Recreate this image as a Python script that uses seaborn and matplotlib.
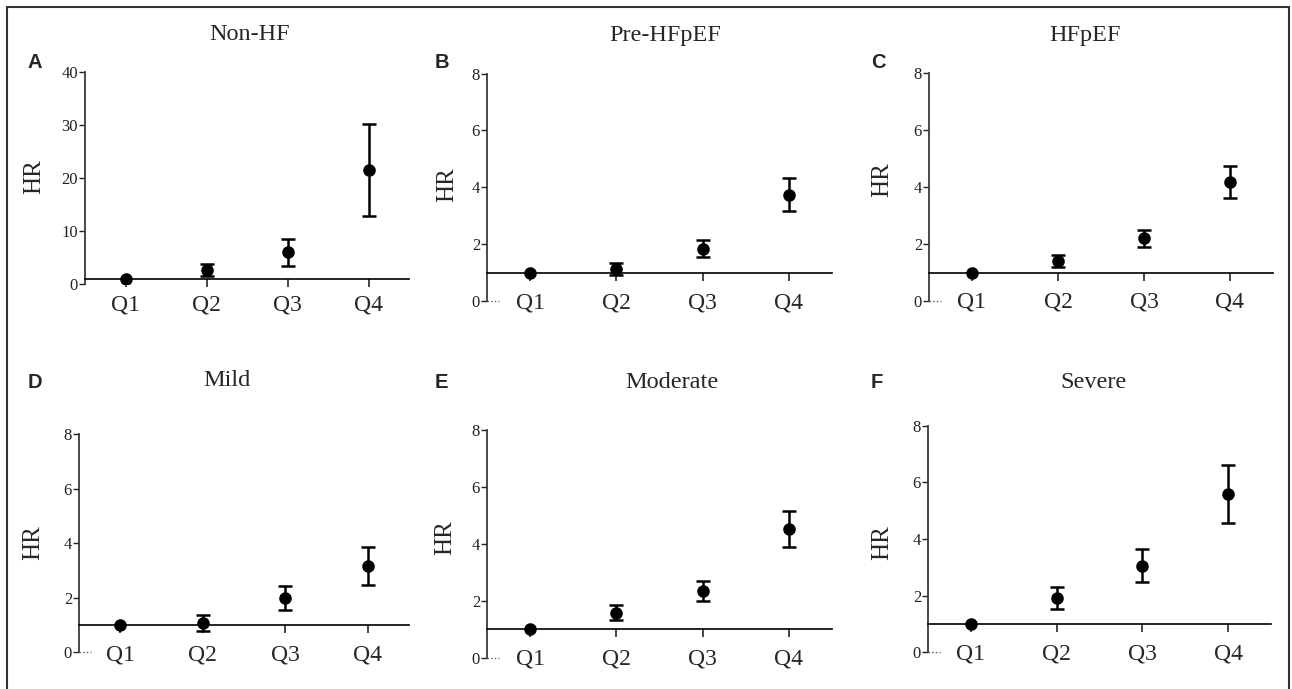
import numpy as np
import pandas as pd
import seaborn as sns
import matplotlib.pyplot as plt
from matplotlib.patches import Rectangle

# data (HR with 95% CI per quartile)
quartiles = ['Q1', 'Q2', 'Q3', 'Q4']
titles = ['Non-HF', 'Pre-HFpEF', 'HFpEF', 'Mild', 'Moderate', 'Severe']
letters = ['A', 'B', 'C', 'D', 'E', 'F']

hr_nonhf = [1.0, 2.7, 6.0, 21.5]
lo_nonhf = [1.0, 1.6, 3.4, 12.8]
hi_nonhf = [1.0, 3.9, 8.6, 30.2]

hr_prehfpef = [1.0, 1.14, 1.82, 3.74]
lo_prehfpef = [1.0, 0.90, 1.53, 3.18]
hi_prehfpef = [1.0, 1.34, 2.15, 4.33]

hr_hfpef = [1.0, 1.39, 2.20, 4.17]
lo_hfpef = [1.0, 1.18, 1.90, 3.62]
hi_hfpef = [1.0, 1.60, 2.51, 4.74]

hr_mild = [1.0, 1.08, 2.01, 3.18]
lo_mild = [1.0, 0.80, 1.54, 2.48]
hi_mild = [1.0, 1.36, 2.45, 3.87]

hr_moderate = [1.0, 1.58, 2.35, 4.52]
lo_moderate = [1.0, 1.32, 2.00, 3.89]
hi_moderate = [1.0, 1.84, 2.70, 5.15]

hr_severe = [1.0, 1.91, 3.06, 5.58]
lo_severe = [1.0, 1.52, 2.47, 4.56]
hi_severe = [1.0, 2.31, 3.66, 6.61]

y_max = [40, 8, 8, 8, 8, 8]
y_step = [10, 2, 2, 2, 2, 2]

hr_all = [hr_nonhf, hr_prehfpef, hr_hfpef, hr_mild, hr_moderate, hr_severe]
lo_all = [lo_nonhf, lo_prehfpef, lo_hfpef, lo_mild, lo_moderate, lo_severe]
hi_all = [hi_nonhf, hi_prehfpef, hi_hfpef, hi_mild, hi_moderate, hi_severe]

W, H = 1292, 689
# panel boxes in pixels: left, right, top(ymax), bottom(0)
boxes = [(85, 409, 71.5, 284.3), (487, 832, 73.5, 301), (929, 1273, 73.3, 301),
         (79, 409, 434.3, 652.3), (487, 832, 430, 657.7), (928, 1271, 425.7, 652.3)]
title_pos = [(250, 34), (665, 36), (1085, 36), (227, 381), (672, 383), (1093, 383)]
letter_pos = [(35, 63), (442, 63), (878, 63), (35, 383), (441, 383), (877, 383)]
hr_pos = [(34, 177), (447, 185), (882, 180), (33, 543), (445, 538), (882, 543)]
xpad = [5, 8, 8, 8, 8, 8]

sns.set_style('ticks')
plt.rcParams['font.family'] = ['Liberation Serif', 'DejaVu Serif']

fig = plt.figure(figsize=(W / 100, H / 100), dpi=100)

for i in range(6):
    L, R, T, B = boxes[i]
    ax = fig.add_axes([L / W, 1 - B / H, (R - L) / W, (B - T) / H])
    hr = np.array(hr_all[i])
    lo = np.array(lo_all[i])
    hi = np.array(hi_all[i])
    pos = np.arange(len(quartiles))
    m = hi > lo
    ax.errorbar(pos[m], hr[m], yerr=[hr[m] - lo[m], hi[m] - hr[m]], fmt='none',
                ecolor='black', elinewidth=1.8, capsize=5, capthick=1.8, zorder=2)
    df = pd.DataFrame({'quartile': quartiles, 'hr': hr})
    sns.pointplot(data=df, x='quartile', y='hr', order=quartiles, color='black',
                  linestyle='none', marker='o', markersize=7, errorbar=None, ax=ax)
    ax.set_xlim(-0.5, len(quartiles) - 0.5)
    ax.set_ylim(0, y_max[i])
    ax.set_yticks(np.arange(0, y_max[i] + 1, y_step[i]))
    ax.set_xlabel('')
    ax.set_ylabel('')
    for s in ['top', 'right']:
        ax.spines[s].set_visible(False)
    ax.spines['bottom'].set_position(('data', 1))
    ax.spines['bottom'].set_linewidth(1.2)
    ax.spines['bottom'].set_color('black')
    ax.spines['left'].set_linewidth(1.3)
    ax.spines['left'].set_color('#3a3a3a')
    ax.tick_params(axis='y', length=4, width=1, labelsize=12, pad=1,
                   colors='#222222')
    ax.tick_params(axis='x', length=6, width=1.2, labelsize=17, pad=xpad[i])
    if i > 0:
        ax.plot([0, 0.035], [0, 0], transform=ax.get_yaxis_transform(),
                ls=':', color='#555555', lw=1, clip_on=False)
    fig.text(title_pos[i][0] / W, 1 - title_pos[i][1] / H, titles[i],
             ha='center', va='center', fontsize=17.5)
    fig.text(letter_pos[i][0] / W, 1 - letter_pos[i][1] / H, letters[i],
             ha='center', va='center', fontsize=14.5, fontweight='bold',
             family=['Liberation Sans', 'DejaVu Sans'])
    fig.text(hr_pos[i][0] / W, 1 - hr_pos[i][1] / H, 'HR', rotation=90,
             ha='center', va='center', fontsize=18)

# outer frame
fig.add_artist(Rectangle((7 / W, -0.05), (1289 - 7) / W, 1 - 7 / H + 0.05,
                         transform=fig.transFigure, fill=False,
                         edgecolor='#333333', lw=1.5))

fig.savefig('out.png', dpi=100)
